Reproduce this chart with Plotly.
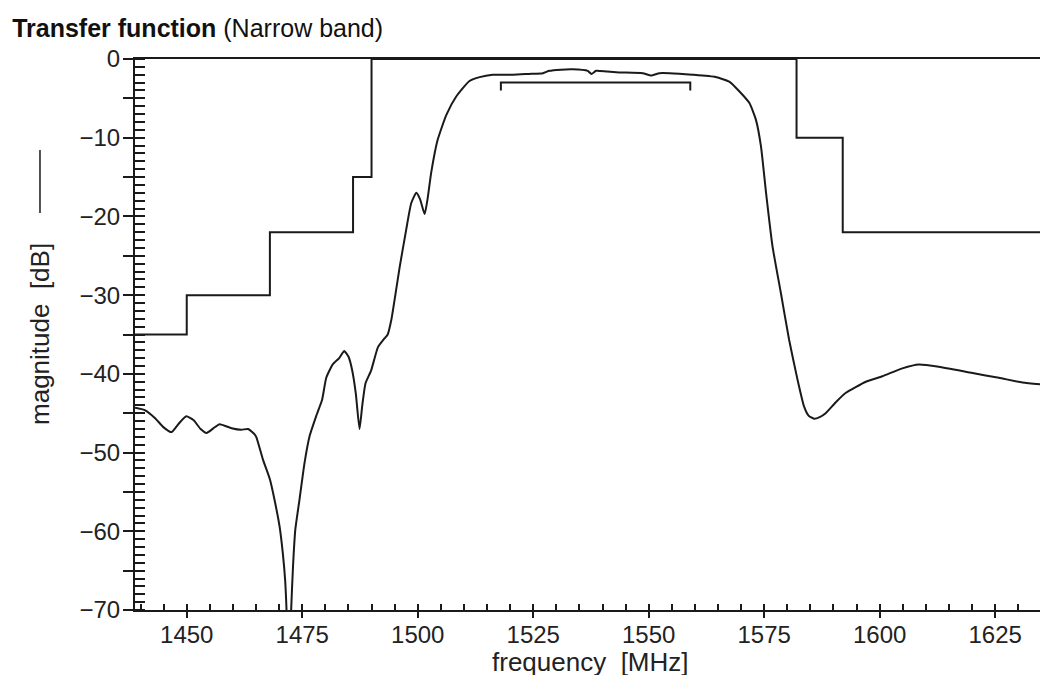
import plotly.graph_objects as go

# ---- data ----
freq = [1438.8, 1440.9, 1443.1, 1445.0, 1446.7, 1448.3, 1449.9, 1451.5, 1453.0, 1454.3,
        1455.8, 1457.1, 1459.7, 1461.8, 1463.3, 1464.7, 1465.1, 1466.5, 1468.0, 1469.0,
        1470.1, 1470.8, 1471.3, 1471.6, 1472.1, 1472.6, 1473.0, 1473.5, 1474.4, 1475.5,
        1476.6, 1478.0, 1479.3, 1480.2, 1481.6, 1483.0, 1484.1, 1485.0, 1485.8, 1486.6,
        1487.4, 1488.0, 1488.7, 1489.9, 1491.4, 1492.8, 1493.5, 1494.3, 1495.2, 1496.1,
        1497.5, 1498.6, 1499.7, 1500.5, 1501.5, 1502.2, 1502.9, 1504.3, 1506.2, 1508.3,
        1511.2, 1513.4, 1516.2, 1520.6, 1524.0, 1527.1, 1528.5, 1531.0, 1533.5, 1536.8,
        1537.6, 1538.6, 1541.0, 1543.6, 1548.7, 1550.5, 1552.3, 1554.5, 1559.5, 1564.5,
        1567.5, 1569.6, 1571.8, 1573.2, 1574.3, 1575.4, 1576.8, 1578.6, 1580.4, 1582.2,
        1583.6, 1584.6, 1585.8, 1587.0, 1588.3, 1590.5, 1592.7, 1597.0, 1600.6, 1604.9,
        1608.5, 1612.8, 1620.1, 1625.8, 1630.9, 1636.0]
magnitude = [-44.3, -44.6, -45.6, -46.8, -47.4, -46.3, -45.4, -45.9, -47.0, -47.5,
             -46.9, -46.4, -46.9, -47.1, -47.0, -47.7, -48.1, -50.9, -53.4, -56.0,
             -59.4, -62.8, -66.2, -70.0, -80.0, -70.0, -64.5, -59.8, -56.0, -51.3,
             -47.9, -45.4, -43.3, -40.5, -38.8, -38.0, -37.1, -37.8, -39.5, -42.5,
             -47.0, -44.0, -41.2, -39.6, -36.6, -35.5, -35.0, -33.1, -29.8, -26.4,
             -21.7, -18.3, -17.0, -17.8, -19.7, -17.5, -14.5, -10.3, -7.1, -4.8,
             -2.8, -2.3, -2.0, -2.0, -1.9, -1.8, -1.5, -1.35, -1.3, -1.5,
             -1.9, -1.5, -1.6, -1.7, -1.8, -2.1, -1.8, -1.8, -2.0, -2.3,
             -2.9, -4.1, -5.6, -7.7, -11.1, -17.0, -23.8, -29.7, -35.7, -40.7,
             -44.1, -45.3, -45.7, -45.5, -45.0, -43.6, -42.4, -41.0, -40.3, -39.3,
             -38.8, -39.1, -39.9, -40.5, -41.1, -41.4]

mask_freq = [1438.8, 1450, 1468, 1486, 1490, 1582, 1592, 1636]
mask_level = [-35, -30, -22, -15, 0, -10, -22, -22]

bracket_freq = [1518, 1518, 1559, 1559]
bracket_level = [-4, -3, -3, -4]

x_ticks = [1450, 1475, 1500, 1525, 1550, 1575, 1600, 1625]
y_ticks = list(range(-70, 1, 5))
y_ticktext = [("%d" % v).replace("-", "\u2212") if v % 10 == 0 else "" for v in y_ticks]

X_RANGE = [1438.8, 1636]
Y_RANGE = [-70, 0]
INK = "#1a1a1a"
FONT = "Liberation Sans, Arial, sans-serif"

fig = go.Figure()
fig.add_trace(go.Scatter(x=mask_freq, y=mask_level, mode="lines", line_shape="hv",
                         line=dict(color=INK, width=2), hoverinfo="skip"))
fig.add_trace(go.Scatter(x=bracket_freq, y=bracket_level, mode="lines",
                         line=dict(color=INK, width=2), hoverinfo="skip"))
fig.add_trace(go.Scatter(x=freq, y=magnitude, mode="lines",
                         line=dict(color=INK, width=2, shape="spline", smoothing=0.5)))
# dummy trace to activate the overlay axes (inside major ticks)
fig.add_trace(go.Scatter(x=[None], y=[None], xaxis="x2", yaxis="y2", mode="lines",
                         hoverinfo="skip"))

# the page body adds an 8px offset, so the figure is 8px smaller than the window
fig.update_layout(
    width=1040, height=667,
    margin=dict(l=127, r=2, t=51, b=65),
    paper_bgcolor="white", plot_bgcolor="white",
    showlegend=False,
    font=dict(family=FONT, size=24, color="#222"),
    title=dict(text="<b>Transfer function</b> (Narrow band)", x=0.004, xanchor="left",
               y=0.969, yanchor="middle", font=dict(family=FONT, size=25, color="#111")),
    xaxis=dict(range=X_RANGE, tickvals=x_ticks, ticks="outside", ticklen=6, tickwidth=2,
               tickcolor=INK, showline=True, linecolor=INK, linewidth=2, mirror=True,
               showgrid=False, zeroline=False, ticklabelstandoff=-4,
               minor=dict(tick0=1440, dtick=5, ticks="inside", ticklen=6, tickwidth=1.5,
                          tickcolor=INK, showgrid=False)),
    xaxis2=dict(range=X_RANGE, overlaying="x", anchor="y2", side="bottom", tickvals=x_ticks,
                ticks="inside", ticklen=6, tickwidth=2, tickcolor=INK, showticklabels=False,
                showline=False, showgrid=False, zeroline=False),
    yaxis=dict(range=Y_RANGE, tickvals=y_ticks, ticktext=y_ticktext, ticks="outside",
               ticklen=10, tickwidth=2, tickcolor=INK, showline=True, linecolor=INK,
               linewidth=2, showgrid=False, zeroline=False, ticklabelstandoff=-2,
               minor=dict(tick0=0, dtick=1, ticks="inside", ticklen=10, tickwidth=1.5,
                          tickcolor=INK, showgrid=False)),
    yaxis2=dict(range=Y_RANGE, overlaying="y", anchor="x2", side="left", tickvals=y_ticks,
                ticks="inside", ticklen=10, tickwidth=2, tickcolor=INK, showticklabels=False,
                showline=False, showgrid=False, zeroline=False),
)

fig.add_annotation(text="frequency\u00a0\u00a0[MHz]", xref="paper", yref="paper",
                   x=0.5, y=-0.094, xanchor="center", yanchor="middle", showarrow=False,
                   font=dict(family=FONT, size=26, color="#222"))
fig.add_annotation(text="magnitude\u00a0\u00a0[dB]", xref="paper", yref="paper",
                   x=-0.1043, y=0.5009, xanchor="center", yanchor="middle", textangle=-90,
                   showarrow=False, font=dict(family=FONT, size=26, color="#222"))
fig.add_shape(type="line", xref="paper", yref="paper", x0=-0.1043, x1=-0.1043,
              y0=0.7205, y1=0.8348, line=dict(color=INK, width=1.5))

fig.write_html("out.html")
